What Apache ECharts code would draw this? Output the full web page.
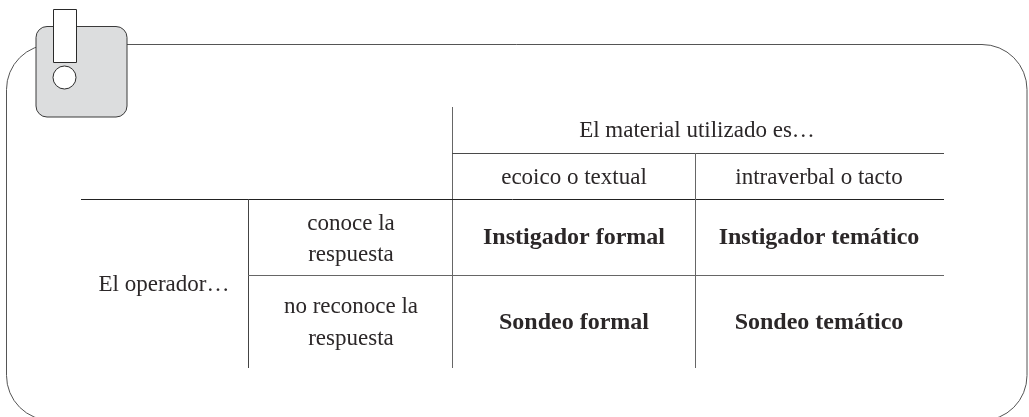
<!DOCTYPE html>
<html>
<head>
<meta charset="utf-8">
<style>html,body{margin:0;padding:0;background:#fff}#c{width:1029px;height:417px}</style>
<script src="https://cdn.jsdelivr.net/npm/echarts@6/dist/echarts.min.js"></script>
</head>
<body>
<div id="c"></div>
<script>
const headerTop = 'El material utilizado es…';
const columnHeaders = ['ecoico o textual', 'intraverbal o tacto'];
const rowGroup = 'El operador…';
const rowHeaders = [['conoce la', 'respuesta'], ['no reconoce la', 'respuesta']];
const cellValues = [['Instigador formal', 'Instigador temático'], ['Sondeo formal', 'Sondeo temático']];

const FONT = '"Liberation Serif", serif';
const INK = '#2b2728', LINE = '#4a4a4a';
const colX = [574, 819], rowY = [238, 323], subX = 351;
const rowLineY = [[224, 255], [307, 339]];

function txt(text, x, y, bold) {
  return { type: 'text', z: 5, x: x, y: y, style: {
    text: text, x: 0, y: 0, align: 'center', verticalAlign: 'middle', fill: INK,
    font: (bold ? 'bold 24px ' : '23px ') + FONT } };
}
function ln(x1, y1, x2, y2, c) {
  return { type: 'line', z: 3, shape: { x1, y1, x2, y2 }, style: { stroke: c || LINE, lineWidth: 1 } };
}
const g = [
  { type: 'rect', z: 1, shape: { x: 6.5, y: 44.5, width: 1020.5, height: 376, r: 45 }, style: { fill: '#fff', stroke: '#555', lineWidth: 1 } },
  { type: 'rect', z: 2, shape: { x: 36, y: 26.5, width: 91, height: 90.5, r: 11 }, style: { fill: '#dcddde', stroke: '#3a3a3a', lineWidth: 1 } },
  { type: 'rect', z: 3, shape: { x: 53.5, y: 9.5, width: 23, height: 53 }, style: { fill: '#fff', stroke: '#2a2a2a', lineWidth: 1 } },
  { type: 'circle', z: 3, shape: { cx: 64.5, cy: 77.5, r: 11.5 }, style: { fill: '#fff', stroke: '#2a2a2a', lineWidth: 1 } },
  ln(452.5, 107, 452.5, 368, '#666'),
  ln(452, 153.5, 944, 153.5),
  ln(81, 199.5, 944, 199.5, '#222'),
  ln(695.5, 153, 695.5, 368, '#666'),
  ln(248.5, 199, 248.5, 368, '#444'),
  ln(248, 275.5, 944, 275.5, '#666'),
  txt(headerTop, 697, 131),
  txt(rowGroup, 164, 285)
];
columnHeaders.forEach((t, i) => g.push(txt(t, colX[i], 178)));
rowHeaders.forEach((r, i) => r.forEach((t, j) => g.push(txt(t, subX, rowLineY[i][j]))));
cellValues.forEach((r, i) => r.forEach((t, j) => g.push(txt(t, colX[j], rowY[i], true))));

echarts.init(document.getElementById('c')).setOption({
  backgroundColor: '#fff', animation: false, graphic: { elements: g }
});
</script>
</body>
</html>
